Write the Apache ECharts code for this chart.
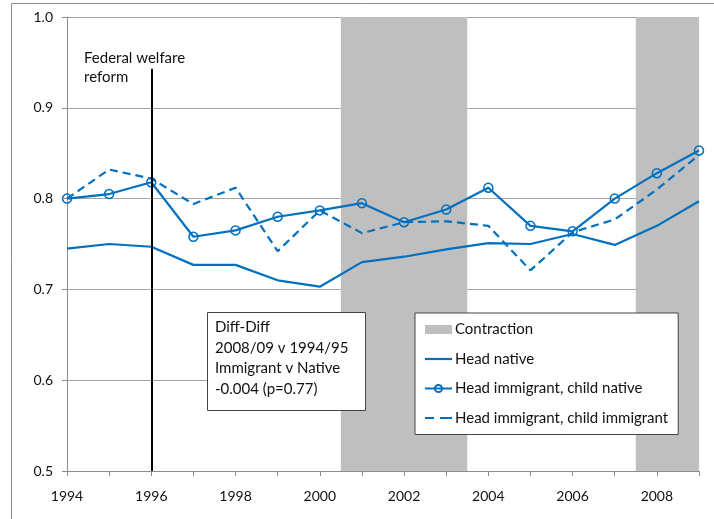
<!DOCTYPE html>
<html>
<head>
<meta charset="utf-8">
<script src="https://cdn.jsdelivr.net/npm/echarts@6/dist/echarts.min.js"></script>
<style>
  html, body { margin: 0; padding: 0; background: #fff; }
  #chart { width: 714px; height: 519px; }
</style>
</head>
<body>
<div id="chart"></div>
<script>
// 年份
const years = [1994, 1995, 1996, 1997, 1998, 1999, 2000, 2001, 2002, 2003, 2004, 2005, 2006, 2007, 2008, 2009];

// 各组数据
const headNative = [0.745, 0.750, 0.747, 0.727, 0.727, 0.710, 0.703, 0.730, 0.736, 0.744, 0.751, 0.750, 0.761, 0.749, 0.770, 0.797];
const childNative = [0.800, 0.805, 0.818, 0.758, 0.765, 0.780, 0.787, 0.795, 0.774, 0.788, 0.812, 0.770, 0.764, 0.800, 0.828, 0.853];
const childImmigrant = [0.800, 0.832, 0.822, 0.794, 0.812, 0.742, 0.787, 0.762, 0.774, 0.775, 0.770, 0.721, 0.763, 0.777, 0.810, 0.848];

// 经济收缩期
const contractions = [[2000.5, 2003.5], [2007.5, 2009]];
const reformYear = 1996;

const seriesNames = ['Contraction', 'Head native', 'Head immigrant, child native', 'Head immigrant, child immigrant'];
const diffText = ['Diff-Diff', '2008/09 v 1994/95', 'Immigrant v Native', '-0.004 (p=0.77)'];

const BLUE = '#0070C0';
const FONT = 'Lato';

// 图例图标
const ICON_LINE = 'path://M0,0h27v2.2h-27z';
const ICON_DASH = 'path://M0,0h9v2.2h-9z M15,0h12v2.2h-12z';

function toPairs(values) {
    return years.map((y, i) => [y, values[i]]);
}

const chart = echarts.init(document.getElementById('chart'));
chart.setOption({
    animation: false,
    textStyle: { fontFamily: FONT },
    grid: { left: 67, right: 15, top: 17, bottom: 48 },
    xAxis: {
        type: 'value',
        min: 1994,
        max: 2009,
        interval: 1,
        axisLine: { show: true, lineStyle: { color: '#8c8c8c' } },
        axisTick: { show: true, inside: false, length: 5, lineStyle: { color: '#8c8c8c' } },
        axisLabel: {
            margin: 18,
            fontSize: 14,
            color: '#111',
            formatter: v => (v % 2 === 0 ? String(v) : '')
        },
        splitLine: { show: false }
    },
    yAxis: {
        type: 'value',
        min: 0.5,
        max: 1.0,
        interval: 0.1,
        axisLine: { show: true, lineStyle: { color: '#8c8c8c' } },
        axisTick: { show: true, length: 5, inside: false, lineStyle: { color: '#8c8c8c' } },
        axisLabel: {
            margin: 14,
            fontSize: 14,
            color: '#111',
            formatter: v => v.toFixed(1)
        },
        splitLine: { show: true, lineStyle: { color: '#a6a6a6', width: 1 } }
    },
    legend: {
        orient: 'vertical',
        left: 415,
        top: 313,
        width: 270,
        padding: [9, 10, 9, 9],
        itemGap: 14.5,
        itemWidth: 27,
        itemHeight: 9,
        backgroundColor: '#fff',
        borderColor: '#444',
        borderWidth: 1,
        textStyle: { fontSize: 15, color: '#111', fontFamily: FONT, padding: [0, 0, 0, -2] },
        data: [
            { name: seriesNames[0], icon: 'rect', itemStyle: { color: '#bfbfbf' } },
            { name: seriesNames[1], icon: ICON_LINE, itemStyle: { color: BLUE } },
            { name: seriesNames[2] },
            { name: seriesNames[3], icon: ICON_DASH, itemStyle: { color: BLUE } }
        ]
    },
    series: [
        {
            name: seriesNames[0],
            type: 'line',
            data: [],
            z: 1,
            itemStyle: { color: '#bfbfbf' },
            markArea: {
                silent: true,
                itemStyle: { color: '#bfbfbf', opacity: 1 },
                data: contractions.map(c => [{ xAxis: c[0] }, { xAxis: c[1] }])
            },
            markLine: {
                silent: true,
                symbol: 'none',
                label: { show: false },
                lineStyle: { color: '#000', width: 2, type: 'solid' },
                data: [[{ coord: [reformYear, 0.5] }, { coord: [reformYear, 0.943] }]]
            }
        },
        {
            name: seriesNames[1],
            type: 'line',
            data: toPairs(headNative),
            symbol: 'none',
            z: 3,
            itemStyle: { color: BLUE },
            lineStyle: { color: BLUE, width: 2.2 }
        },
        {
            name: seriesNames[2],
            type: 'line',
            data: toPairs(childNative),
            symbol: 'circle',
            symbolSize: 9,
            z: 4,
            itemStyle: { color: 'rgba(255,255,255,0)', borderColor: BLUE, borderWidth: 1.5 },
            lineStyle: { color: BLUE, width: 2.2 }
        },
        {
            name: seriesNames[3],
            type: 'line',
            data: toPairs(childImmigrant),
            symbol: 'none',
            z: 3,
            itemStyle: { color: BLUE },
            lineStyle: { color: BLUE, width: 2.2, type: [8, 5] }
        }
    ],
    graphic: [
        // 外框
        {
            type: 'rect',
            shape: { x: 11.5, y: 3.5, width: 800, height: 600 },
            style: { fill: 'none', stroke: '#8c8c8c', lineWidth: 1 },
            z: 0
        },
        // 福利改革标注
        {
            type: 'text',
            left: 84,
            top: 49,
            style: {
                text: 'Federal welfare\nreform',
                fontSize: 15,
                lineHeight: 19,
                fill: '#111',
                fontFamily: FONT
            },
            z: 10
        },
        // Diff-Diff 文本框
        {
            type: 'rect',
            shape: { x: 207.5, y: 312.5, width: 158, height: 98 },
            style: { fill: '#fff', stroke: '#444', lineWidth: 1 },
            z: 10
        },
        {
            type: 'text',
            left: 215,
            top: 317,
            style: {
                text: diffText.join('\n'),
                fontSize: 15,
                lineHeight: 20.5,
                fill: '#111',
                fontFamily: FONT
            },
            z: 11
        }
    ]
});
</script>
</body>
</html>
